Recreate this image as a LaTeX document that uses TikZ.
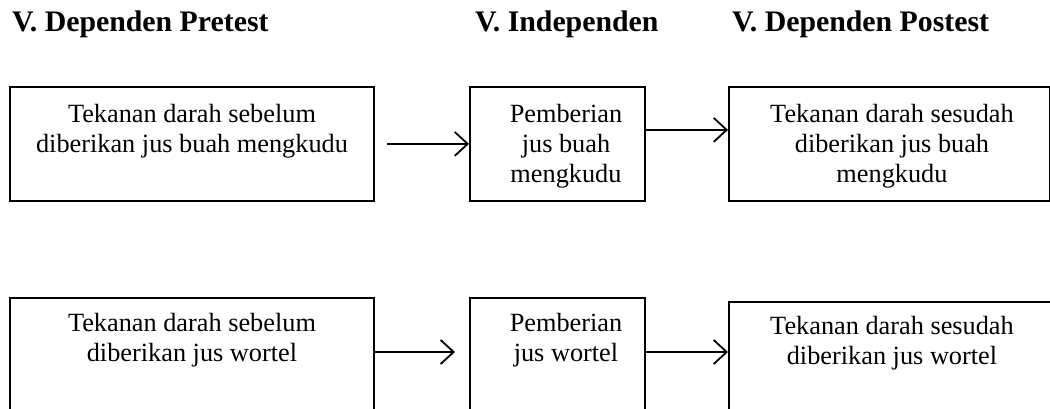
\documentclass[tikz,border=0pt]{standalone}
\usepackage{fontspec}
\setmainfont{Liberation Serif}
\usetikzlibrary{arrows.meta}
\begin{document}
\begin{tikzpicture}[x=1pt,y=-1pt,
  box/.style={draw,line width=1.8pt,anchor=north west,inner sep=0pt},
  txt/.style={anchor=north,inner sep=0pt,align=center,font=\fontsize{26.3}{30}\selectfont},
  head/.style={anchor=base west,inner sep=0pt,font=\fontsize{29.8}{33}\selectfont\bfseries},
  arr/.style={line width=1.8pt,-{Straight Barb[length=13pt,width=24pt,line width=1.8pt]}}]
\useasboundingbox (0,0) rectangle (1050,409);
\path[clip] (0,0) rectangle (1050,409);
% headings
\node[head] (h1) at (12,32) {V. Dependen Pretest};
\node[head] (h2) at (475,32) {V. Independen};
\node[head] (h3) at (732,32) {V. Dependen Postest};
% top row boxes
\node[box,minimum width=364pt,minimum height=114pt] (b1) at (9,86) {};
\node[box,minimum width=175pt,minimum height=114pt] (b2) at (469,86) {};
\node[box,minimum width=321pt,minimum height=114pt] (b3) at (728,86) {};
% bottom row boxes
\node[box,minimum width=364pt,minimum height=140pt] (b4) at (9,297) {};
\node[box,minimum width=175pt,minimum height=140pt] (b5) at (469,297) {};
\node[box,minimum width=360pt,minimum height=140pt] (b6) at (728,301) {};
% texts
\node[txt] (t1) at (192,104) {Tekanan darah sebelum\\diberikan jus buah mengkudu};
\node[txt] (t2) at (566,104) {Pemberian\\jus buah\\mengkudu};
\node[txt] (t3) at (892,104) {Tekanan darah sesudah\\diberikan jus buah\\mengkudu};
\node[txt] (t4) at (192,313) {Tekanan darah sebelum\\diberikan jus wortel};
\node[txt] (t5) at (566,313) {Pemberian\\jus wortel};
\node[txt] (t6) at (892,316) {Tekanan darah sesudah\\diberikan jus wortel};
% arrows
\draw[arr,shorten <=12pt] (b1.east) -- (b2.west);
\draw[arr] ([yshift=14pt]b2.east) -- ([yshift=14pt]b3.west);
\coordinate (e4) at (455,352);
\draw[arr] (b4.east |- e4) -- (e4);
\draw[arr] (b5.east |- e4) -- (b6.west |- e4);
\end{tikzpicture}
\end{document}
